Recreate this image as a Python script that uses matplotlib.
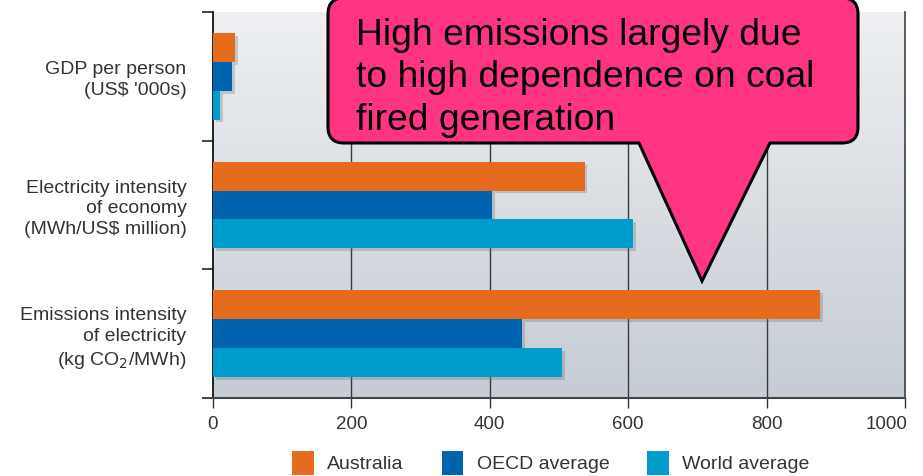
import numpy as np
import matplotlib
matplotlib.use("Agg")
import matplotlib.pyplot as plt
from matplotlib.path import Path
from matplotlib.patches import PathPatch, Patch
from matplotlib import patheffects as pe
import matplotlib.transforms as mtransforms

# ---- data -------------------------------------------------------------
categories = [
    "GDP per person\n(US$ '000s)",
    "Electricity intensity\nof economy\n(MWh/US$ million)",
    "Emissions intensity\nof electricity\n(kg CO$_2$/MWh)",
]
series_names = ["Australia", "OECD average", "World average"]
australia = [32, 537, 877]
oecd = [28, 403, 447]
world = [10, 607, 504]
x_ticks = [0, 200, 400, 600, 800, 1000]
callout_text = "High emissions largely due\nto high dependence on coal\nfired generation"

colors = ["#e56c1e", "#0063ad", "#009ccb"]
font = "Liberation Sans"
plt.rcParams["font.family"] = [font, "DejaVu Sans"]

W, H = 923, 476
fig = plt.figure(figsize=(W / 100, H / 100), dpi=100)
ax = fig.add_axes([213 / W, 1 - 398 / H, 692 / W, 386 / H])

# gradient backdrop of the plotting area
grad = np.linspace(0, 1, 256)[:, None]
top = np.array([238, 240, 242]) / 255
bot = np.array([198, 204, 212]) / 255
img = top + (bot - top) * grad[..., None]
ax.imshow(img, extent=[0, 1, 0, 1], transform=ax.transAxes, aspect="auto",
          zorder=0, interpolation="bicubic")

# bars with a soft drop shadow
n = len(categories)
ypos = np.arange(n)
h = 0.224
shadow = [pe.SimplePatchShadow(offset=(2, -2), shadow_rgbFace="#6a707c",
                               alpha=0.3), pe.Normal()]
for i, (vals, c) in enumerate(zip([australia, oecd, world], colors)):
    bars = ax.barh(ypos + (i - 1) * h, vals, height=h, color=c,
                   zorder=3, label=series_names[i])
    for b in bars:
        b.set_path_effects(shadow)

ax.set_xlim(0, 1000)
ax.set_ylim(n - 0.5, -0.5)

# vertical grid lines
for xv in x_ticks[1:]:
    ax.axvline(xv, color="#3a3a3a", lw=1.0, zorder=1)

ax.set_xticks(x_ticks)
ax.set_xticklabels([str(v) for v in x_ticks], fontsize=13.5, color="#333333")
ax.tick_params(axis="x", length=7, width=1, color="#333333", pad=6)
last = ax.get_xticklabels()[-1]
last.set_horizontalalignment("right")
last.set_transform(last.get_transform() +
                   mtransforms.ScaledTranslation(2 / 100, 0, fig.dpi_scale_trans))

ax.set_yticks(np.arange(n + 1) - 0.5)
ax.set_yticklabels([])
ax.tick_params(axis="y", length=8, width=1.2, color="#222222")
ax.set_yticks(ypos, minor=True)
ax.set_yticklabels(categories, minor=True, fontsize=14, color="#333333",
                   linespacing=1.3)
ax.tick_params(axis="y", which="minor", length=0, pad=19)

ax.spines["top"].set_visible(False)
ax.spines["left"].set_color("#111111")
ax.spines["left"].set_linewidth(1.3)
ax.spines["bottom"].set_color("#444444")
ax.spines["bottom"].set_linewidth(1.5)
ax.spines["right"].set_color("#444444")
ax.spines["right"].set_linewidth(1.2)

# legend
handles = [Patch(facecolor=c, edgecolor="none") for c in colors]
fig.legend(handles, series_names, loc="center", bbox_to_anchor=(551 / W, 1 - 463 / H),
           ncol=3, frameon=False, fontsize=14, handlelength=1.1, handleheight=1.5,
           handletextpad=0.7, columnspacing=1.95, labelcolor="#333333")

# ---- callout (figure pixel coordinates, y downward) -------------------
px = mtransforms.Affine2D().scale(1 / W, -1 / H).translate(0, 1) + fig.transFigure
L, R, T, B, r = 328, 858, -2, 143, 16
bl, br, tip = 639, 770, (702, 281)
verts = [
    (L + r, T), (R - r, T), (R, T), (R, T + r),
    (R, B - r), (R, B), (R - r, B),
    (br, B), tip, (bl, B),
    (L + r, B), (L, B), (L, B - r),
    (L, T + r), (L, T), (L + r, T),
    (L + r, T),
]
codes = [
    Path.MOVETO, Path.LINETO, Path.CURVE3, Path.CURVE3,
    Path.LINETO, Path.CURVE3, Path.CURVE3,
    Path.LINETO, Path.LINETO, Path.LINETO,
    Path.LINETO, Path.CURVE3, Path.CURVE3,
    Path.LINETO, Path.CURVE3, Path.CURVE3,
    Path.CLOSEPOLY,
]
bubble = Path(verts, codes)
plt.rcParams["hatch.linewidth"] = 0.3
fig.add_artist(PathPatch(bubble, transform=px, facecolor="#ff0a70",
                         edgecolor="#ff3584", hatch="+" * 30, lw=0, zorder=10))
fig.add_artist(PathPatch(bubble, transform=px, facecolor="none",
                         edgecolor="black", lw=2.2, zorder=11,
                         joinstyle="miter"))
fig.text(356 / W, 1 - 18 / H, callout_text, fontsize=26.8, color="black",
         ha="left", va="top", linespacing=1.27, zorder=12, family=font)

fig.savefig("out.png", dpi=100, facecolor="white")
